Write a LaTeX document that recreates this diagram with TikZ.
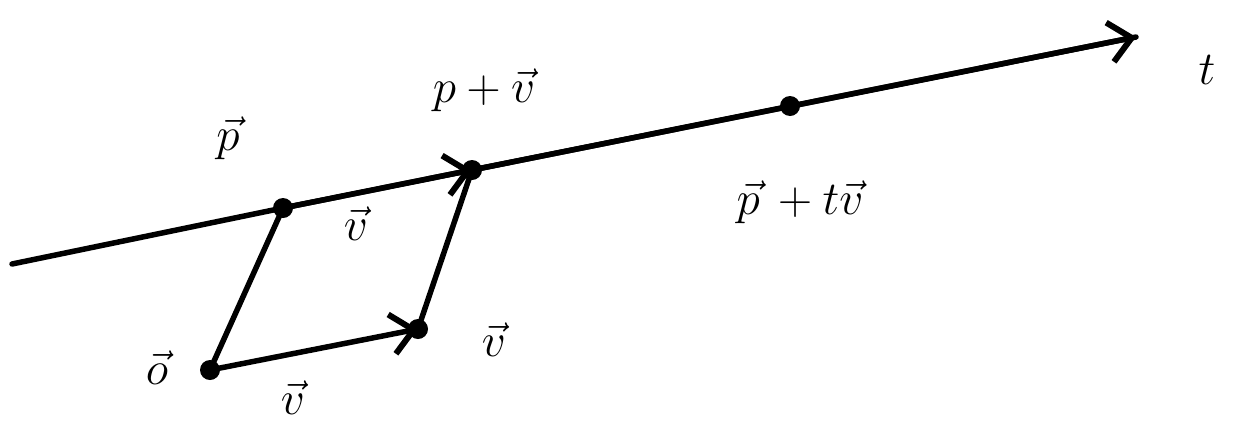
\documentclass[tikz,border=0pt]{standalone}
\usetikzlibrary{arrows.meta}
\begin{document}
\begin{tikzpicture}[x=1pt,y=-1pt,
  pen/.style={line width=5.5pt,line cap=round,line join=round},
  dotpt/.style={circle,fill=black,inner sep=0pt,minimum size=20pt},
  barb/.style={-{Straight Barb[length=22pt,width=40pt,line width=6pt]}},
  lbl/.style={font=\Huge,scale=1.9}]
\useasboundingbox (0,0) rectangle (1238,429);
\coordinate (s) at (12,264);
\coordinate (e) at (1136,37);
\node[dotpt] (p) at (283,208) {};
\node[dotpt] (pv) at (472,170) {};
\node[dotpt] (ptv) at (790,106) {};
\node[dotpt] (o) at (210,370) {};
\node[dotpt] (v) at (418,329) {};
\draw[pen] (s) -- (p.center) -- (pv.center) -- (e);
\draw[pen,barb] (p.center) -- (pv.center);
\draw[pen,barb] (pv.center) -- (e);
\draw[pen] (o.center) -- (p.center);
\draw[pen] (v.center) -- (pv.center);
\draw[pen,barb] (o.center) -- (v.center);
\node[lbl] (lp) at (228,138) {$\vec p$};
\node[lbl] (lpv) at (484,90) {$p+\vec v$};
\node[lbl] (lv1) at (356,224) {$\vec v$};
\node[lbl] (lptv) at (800,202) {$\vec p\,+t\vec v$};
\node[lbl] (lo) at (157,368) {$\vec o$};
\node[lbl] (lv2) at (494,340) {$\vec v$};
\node[lbl] (lv3) at (293,398) {$\vec v$};
\node[lbl] (lt) at (1207,70) {$t$};
\end{tikzpicture}
\end{document}
